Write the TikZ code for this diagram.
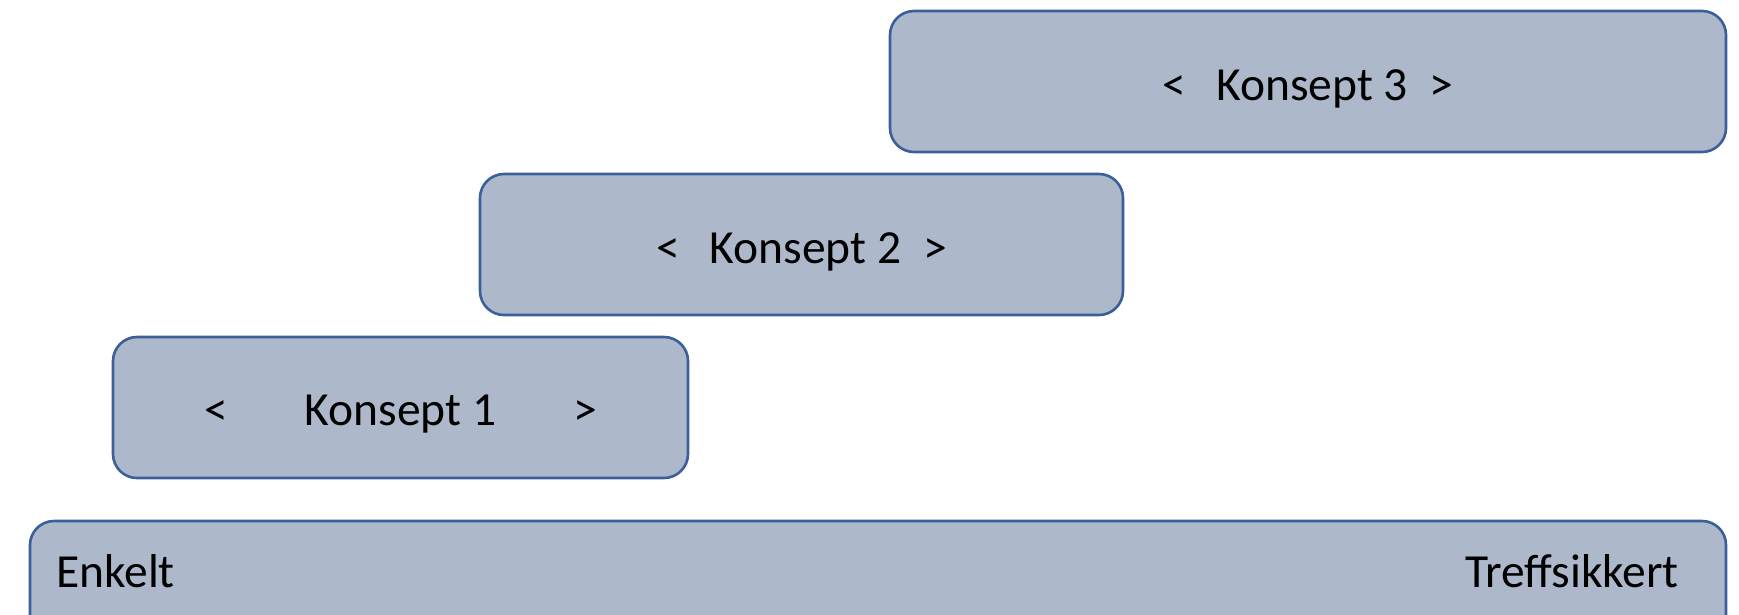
\documentclass[tikz,border=0pt]{standalone}
\usepackage{fontspec}
\setmainfont{Carlito}
\definecolor{boxfill}{HTML}{ADB9CA}
\definecolor{boxline}{HTML}{3A5F9A}
\newcommand{\lowertxt}[1]{\raisebox{-7pt}[\height][\depth]{#1}}
\begin{document}
\begin{tikzpicture}[x=1pt,y=-1pt,
  conbox/.style={draw=boxline, fill=boxfill, line width=2.6pt, rounded corners=24pt,
    inner sep=0pt, font=\fontsize{47.5}{57}\selectfont},
  lbl/.style={inner sep=0pt, font=\fontsize{47.5}{57}\selectfont}]
\useasboundingbox (0,0) rectangle (1739,614);
\begin{scope}
\clip (-10,-10) rectangle (1749,614);
\node[conbox, minimum width=1696pt, minimum height=140pt] (bar) at (878,591) {};
\end{scope}
\node[lbl, anchor=base west] (enkelt) at (56,587) {Enkelt};
\node[lbl, anchor=base east] (treff) at (1679,587) {Treffsikkert};
\node[conbox, minimum width=575pt, minimum height=141pt] (k1) at (400.5,407.5)
  {\lowertxt{<\hspace{77pt}Konsept 1\hspace{77pt}>}};
\node[conbox, minimum width=643pt, minimum height=141pt] (k2) at (801.5,244.5)
  {\lowertxt{<\hspace{30pt}Konsept 2\hspace{22pt}>}};
\node[conbox, minimum width=836pt, minimum height=141pt] (k3) at (1308,81.5)
  {\lowertxt{<\hspace{30pt}Konsept 3\hspace{22pt}>}};
\end{tikzpicture}
\end{document}
